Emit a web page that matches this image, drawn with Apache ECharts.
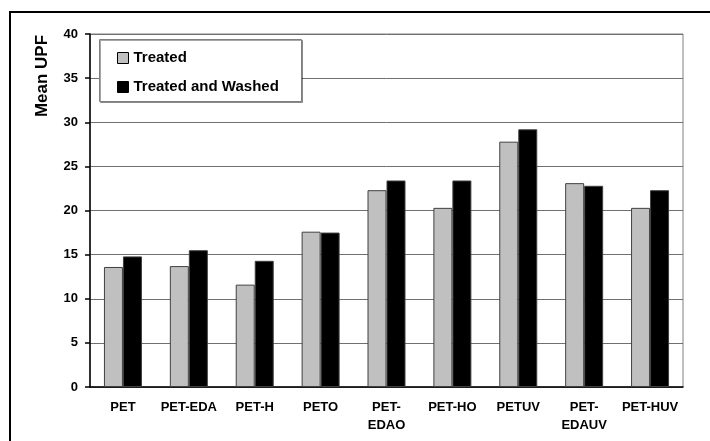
<!DOCTYPE html>
<html><head><meta charset="utf-8">
<script src="https://cdn.jsdelivr.net/npm/echarts@6/dist/echarts.min.js"></script>
<style>html,body{margin:0;padding:0;background:#fff}#c{width:710px;height:441px}</style>
</head><body><div id="c"></div>
<script>
var categories = ['PET', 'PET-EDA', 'PET-H', 'PETO', 'PET-\nEDAO', 'PET-HO', 'PETUV', 'PET-\nEDAUV', 'PET-HUV'];
var treated = [13.6, 13.7, 11.6, 17.6, 22.3, 20.3, 27.8, 23.1, 20.3];
var treatedWashed = [14.8, 15.5, 14.3, 17.5, 23.4, 23.4, 29.2, 22.8, 22.3];
var seriesNames = ['Treated', 'Treated and Washed'];
var yName = 'Mean UPF';

var FF = 'Arial, "Liberation Sans", sans-serif';
var chart = echarts.init(document.getElementById('c'), null, {renderer: 'canvas'});
chart.setOption({
  animation: false,
  backgroundColor: '#fff',
  grid: {left: 90, right: 27, top: 34, bottom: 54, show: true, borderColor: '#808080', borderWidth: 1, backgroundColor: 'transparent'},
  graphic: [
    {type: 'rect', shape: {x: 10, y: 12, width: 720, height: 450}, style: {fill: 'none', stroke: '#000', lineWidth: 2}, z: 100},
    {type: 'rect', shape: {x: 99.5, y: 39.5, width: 202, height: 62}, style: {fill: '#fff', stroke: '#808080', lineWidth: 1, shadowColor: 'rgba(0,0,0,0.35)', shadowOffsetX: 1, shadowOffsetY: 1}, z: 50},
    {type: 'text', x: 42, y: 76, rotation: Math.PI / 2, style: {text: yName, font: 'bold 17px ' + FF, fill: '#000', align: 'center', verticalAlign: 'middle'}, z: 100}
  ],
  legend: {
    orient: 'vertical', left: 117, top: 50, padding: 0, itemGap: 13, itemWidth: 11, itemHeight: 11,
    icon: 'rect', z: 60,
    itemStyle: {borderColor: '#000', borderWidth: 1},
    textStyle: {fontFamily: FF, fontWeight: 'bold', fontSize: 15, lineHeight: 16, color: '#000'},
    data: seriesNames
  },
  xAxis: {
    type: 'category', data: categories,
    axisLine: {lineStyle: {color: '#000', width: 1.5}},
    axisTick: {length: 5, lineStyle: {color: '#000', width: 1.5}},
    axisLabel: {fontFamily: FF, fontWeight: 'bold', fontSize: 13, lineHeight: 18, margin: 11, color: '#000', interval: 0}
  },
  yAxis: {
    type: 'value', min: 0, max: 40, interval: 5,
    axisLine: {show: true, lineStyle: {color: '#000', width: 1.5}},
    axisTick: {show: true, inside: false, length: 5, lineStyle: {color: '#000', width: 1.5}},
    axisLabel: {fontFamily: FF, fontWeight: 'bold', fontSize: 13, margin: 12, color: '#000'},
    splitLine: {lineStyle: {color: '#707070', width: 1}}
  },
  series: [
    {name: seriesNames[0], type: 'bar', data: treated, barWidth: 19, barGap: '0%',
     itemStyle: {color: '#C0C0C0', borderColor: '#404040', borderWidth: 1}},
    {name: seriesNames[1], type: 'bar', data: treatedWashed, barWidth: 19, barGap: '0%',
     itemStyle: {color: '#000', borderColor: '#404040', borderWidth: 1}}
  ]
});
</script></body></html>
